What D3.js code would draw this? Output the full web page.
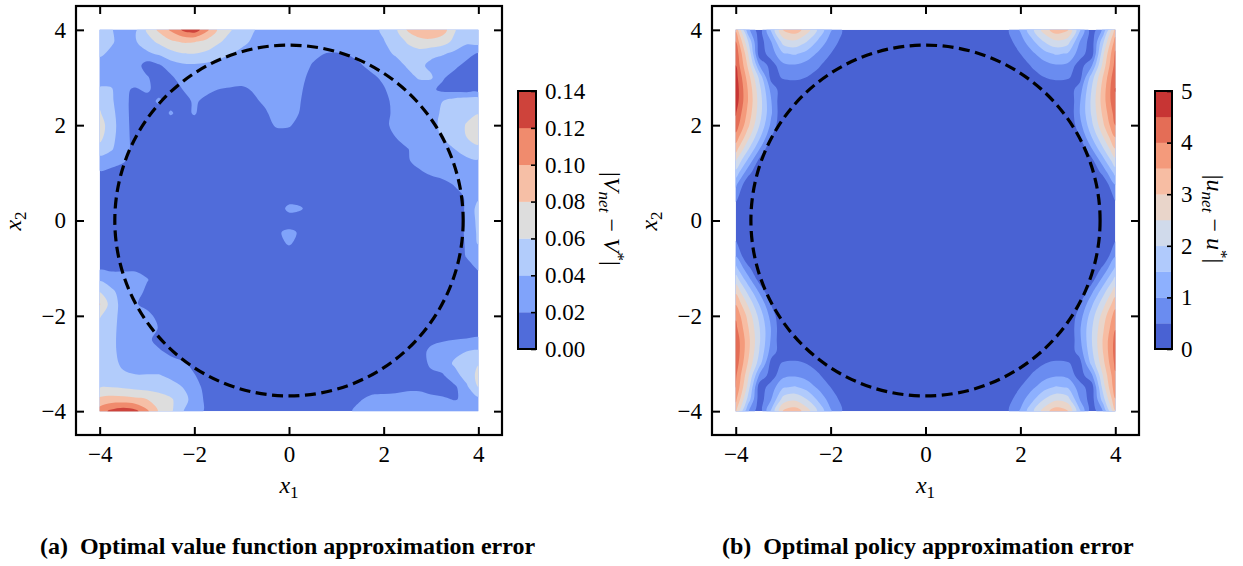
<!DOCTYPE html>
<html>
<head>
<meta charset="utf-8">
<script src="https://cdn.jsdelivr.net/npm/d3@7"></script>
<style>
  body { margin: 0; background: #fff; }
  svg { display: block; }
</style>
</head>
<body>
<svg id="fig" width="1243" height="566"></svg>
<script>
// ---------- data ----------
const gridMin = -4, gridMax = 4;
const axisTicks = [-4, -2, 0, 2, 4];
const axisTickLabels = ["\u22124", "\u22122", "0", "2", "4"];
const circleRadius = 3.68;

// |V_net - V*| in units of 0.01
const valueLevels = [0, 2, 4, 6, 8, 10, 12, 14];
const valueTickLabels = ["0.00", "0.02", "0.04", "0.06", "0.08", "0.10", "0.12", "0.14"];
const policyLevels = [0, 0.5, 1, 1.5, 2, 2.5, 3, 3.5, 4, 4.5, 5];
const policyTicks = [0, 1, 2, 3, 4, 5];
const policyTickLabels = ["0", "1", "2", "3", "4", "5"];

// rows go from x2 = 4 (top) to x2 = -4 (bottom), columns from x1 = -4 to 4, step 0.25
const valueError = [
  [5.5,4.1,3.2,3.6,6.3,8.4,10.3,12.2,13.2,10.6,7.8,6.2,5.0,4.1,3.3, 3,3,3,3,3,3,3,3, 3.5,4.3,5.6,8.2,9.5,9.8,9.0,6.2,4.2,4.5],
  [5.2,4.3,3.0,3.8,5.2,6.4,7.6,8.2,8.1,7.4,6.3,5.3,4.5,3.7,3.2, 3,3,3,3,3,3,3,3, 3.3,3.9,4.8,6.2,7.2,7.4,6.8,5.5,4.4,4.8],
  [4.4,3.5,3.0,3.2,3.6,4.3,5.3,5.9,6.0,5.6,4.8,4.1,3.5,3.1, 3,3,3,3, 2.6,2.0,1.9,2.1,2.6,3.0,3.5,4.2,5.0,5.2,4.5,4.2,3.5,2.6,1.8],
  [3,3,3,3, 1.1,1.7,3.0,3.6,3.7,3.5,3.2, 3,3,3,3,3,3,3, 1.8,1.2,1.0,1.2,1.8,2.6,3.0,3.3,4.2,4.5,3.5,2.8,2.4,1.5,1.2],
  [3,3,3,3, 2.2,1.0,1.6, 3,3,3,3,3,3,3,3,3,3, 2.5,1.3,1,1,1,1.2,1.6,2.4,3.0,3.4,4.2,4.3,2.2,1.3,1.0,1.0],
  [4.3,4.2,2.3,1.8,2.3,1.3,1.0,2.0,3.0,2.5,2.0,1.8,1.6,2.2,3.0,3.0,3.0,2.2, 1,1,1,1,1,1, 1.8,3.0,3.0,3.0,2.4,1.5,1.2,1.0,1.0],
  [5.5,4.3,2.6,1.3,1.2,2.3,1.3,1.2,2.3,1.5,1.0,1.0,1.0,1.6,2.4,3.0,3.0,2.0, 1,1,1,1,1,1, 1.4,2.6,3.0,3.1,3.4,4.0,5.0,5.4,5.5],
  [6.2,4.6,2.7,1.2,1.0,1.0,2.2,1.3,2.2,1.0,1.0,1.0,1.0,1.0,1.7,3.0,3.0,1.8, 1,1,1,1,1,1, 1.2,2.6,3.0,3.0,3.3,4.3,5.2,5.6,5.9],
  [7.0,4.8,2.8,1.2, 1,1,1,1,1,1,1,1,1,1, 1.3,2.3,2.2,1.3, 1,1,1,1,1,1, 1.3,2.8,3.0,3.1,3.5,4.4,5.3,6.1,7.0],
  [6.6,4.6,2.8,1.3, 1,1,1,1,1,1,1,1,1,1, 1,1,1,1,1,1,1,1,1,1, 1.2,2.0,3.0,3.0,3.4,4.1,5.0,6.0,6.8],
  [5.3,4.2,2.7,1.4, 1,1,1,1,1,1,1,1,1,1, 1,1,1,1,1,1,1,1,1,1, 1,1, 1.9,2.8,3.0,3.4,4.0,4.8,5.6],
  [3.0,2.8,2.2, 1,1,1,1,1,1,1,1,1,1, 1,1,1,1,1,1,1,1,1,1, 1,1,1, 1.8,2.6,3.0,3.0,3.2,3.6,3.8],
  [1.8,1.4, 1,1,1,1,1,1,1,1,1,1, 1,1,1,1,1,1,1,1,1,1, 1,1,1,1,1, 1.7,2.3,2.7,3.0,3.0,3.0],
  [1,1,1,1,1,1,1,1,1,1, 1,1,1,1,1,1,1,1,1,1, 1,1,1,1,1,1,1,1,1, 1.4,2.1,2.8,3.0],
  [1,1,1,1,1,1,1,1,1,1, 1,1,1,1,1,1,1,1,1,1, 1,1,1,1,1,1,1,1,1,1, 1.4,2.2,3.6],
  [1,1,1,1,1,1,1,1,1,1, 1,1,1,1,1,1, 2.5,2.2, 1,1,1,1,1,1,1,1,1,1,1,1, 1.2,2.2,4.8],
  [1,1,1,1,1,1,1,1,1,1, 1,1,1,1,1,1,1,1,1,1, 1,1,1,1,1,1,1,1,1,1,1, 2.3,4.6],
  [1,1,1,1,1,1,1,1,1,1, 1,1,1,1,1, 1.8,2.35,1.8, 1,1,1,1,1,1,1,1,1,1,1,1,1, 2.3,4.4],
  [1,1,1,1,1,1,1,1,1,1, 1,1,1,1,1, 1.6,2.1,1.6, 1,1,1,1,1,1,1,1,1,1,1,1,1, 2.2,4.1],
  [1,1,1,1,1,1,1,1,1,1, 1,1,1,1,1,1,1,1,1,1, 1,1,1,1,1,1,1,1,1,1,1, 2.1,2.9],
  [1.7,1.6,1.6,1.6,1.5, 1,1,1,1,1,1,1,1,1,1, 1,1,1,1,1,1,1,1,1,1, 1,1,1,1,1,1, 1.3,2.2],
  [3.8,3.0,3.0,3.0,2.1,1.3, 1,1,1,1,1,1,1,1,1,1, 1,1,1,1,1,1,1,1,1,1, 1,1,1,1,1,1, 1.2],
  [6.0,4.5,3.0,2.8,1.6, 1,1,1,1,1,1,1,1,1,1, 1,1,1,1,1,1,1,1,1,1, 1,1,1,1,1,1,1,1],
  [8.2,5.0,3.2,2.2,1.4, 1,1,1,1,1,1,1,1,1,1, 1,1,1,1,1,1,1,1,1,1, 1,1,1,1,1,1,1,1],
  [6.2,4.8,3.2,3.0,2.6,1.4, 1,1,1,1,1,1,1,1,1,1, 1,1,1,1,1,1,1,1,1,1, 1,1,1,1,1,1,1],
  [5.2,4.6,3.2,3.0,3.0,1.9, 1,1,1,1,1,1,1,1,1,1, 1,1,1,1,1,1,1,1,1,1, 1,1,1,1,1,1,1],
  [5.2,4.5,3.2,3.0,2.5,1.3, 1,1,1,1,1,1,1,1,1,1, 1,1,1,1,1,1,1,1,1,1, 1,1, 1.4,1.8,2.0,2.1,2.3],
  [5.0,4.5,3.3,3.0,3.0,2.3,1.5, 1,1,1,1,1,1,1,1,1,1, 1,1,1,1,1,1,1,1,1,1, 1, 2.6,3.0,3.5,4.0,4.3],
  [5.0,4.8,3.5,3.0,3.0,3.0,2.8,2.3,1.5, 1,1,1,1,1,1,1,1,1,1, 1,1,1,1,1,1,1,1,1, 2.4,3.0,4.3,5.0,5.9],
  [5.2,5.0,4.4,4.1,4.1,4.1,3.7,3.0,2.1,1.2, 1,1,1,1,1,1,1,1,1,1, 1,1,1,1,1,1,1,1, 1.5,1.8,3.3,4.8,6.5],
  [5.9,6.0,5.8,5.5,5.3,5.0,4.6,4.0,2.8,1.4, 1,1,1,1,1,1,1,1,1,1,1, 1.2,1.4,1.5,1.5,1.6,1.7,1.7,1.4,1.3,1.6,3.6,6.0],
  [8.5,8.8,8.7,8.4,8.0,7.2,6.3,4.8,3.2,1.6,1.1, 1,1,1,1,1,1,1,1,1,1, 1.3,1.9,2.3,2.4,2.4,2.6,2.6,2.4,2.2,1.9,2.3,3.5],
  [11.0,12.5,13.3,12.6,10.4,7.8,6.4,4.1,3.0,1.7, 1,1,1,1,1,1,1,1,1,1,1, 1.8,2.4,2.6,2.7,2.8,3.0,3.0,3.0,3.0,3.0,3.2,3.8]
];

const policyError = [
  [3.4,1.2,0.15,1.6,3.05,3.3,2.75,1.88,1.06,0.48,0.18,0.06, 0,0,0,0,0,0,0,0,0, 0.06,0.18,0.48,1.06,1.88,2.75,3.3,3.05,1.6,0.15,1.12,3.16],
  [4.0,2.1,0.2,1.0,2.21,2.39,2.0,1.37,0.77,0.35,0.13,0.04, 0,0,0,0,0,0,0,0,0, 0.04,0.13,0.35,0.77,1.37,2.0,2.39,2.21,1.0,0.2,1.95,3.72],
  [4.4,2.63,0.2,0.75,1.45,1.56,1.31,0.89,0.5,0.23,0.09,0.03, 0,0,0,0,0,0,0,0,0, 0.03,0.09,0.23,0.5,0.89,1.31,1.56,1.45,0.75,0.2,2.45,4.09],
  [4.5,2.96,1.0,0.25,0.87,0.94,0.79,0.54,0.3,0.14,0.05, 0,0,0,0,0,0,0,0,0,0,0, 0.05,0.14,0.3,0.54,0.79,0.94,0.87,0.25,0.93,2.75,4.19],
  [4.75,3.31,1.88,0.3,0.55,0.59,0.49,0.34,0.19,0.09,0.03, 0,0,0,0,0,0,0,0,0,0,0, 0.03,0.09,0.19,0.34,0.49,0.59,0.55,0.3,1.75,3.08,4.42],
  [4.85,3.51,2.16,0.82,0.18,0.2,0.16,0.11,0.06,0.03, 0,0,0,0,0,0,0,0,0,0,0,0,0, 0.03,0.06,0.11,0.16,0.2,0.18,0.76,2.01,3.26,4.51],
  [4.8,3.54,2.27,1.01, 0,0,0,0,0, 0,0,0,0,0, 0,0,0,0,0, 0,0,0,0,0, 0,0,0,0,0, 0.94,2.11,3.29,4.46],
  [4.55,3.39,2.22,1.06, 0,0,0,0,0, 0,0,0,0,0, 0,0,0,0,0, 0,0,0,0,0, 0,0,0,0,0, 0.99,2.06,3.15,4.23],
  [4.3,3.16,2.01,0.86, 0,0,0,0,0, 0,0,0,0,0, 0,0,0,0,0, 0,0,0,0,0, 0,0,0,0,0, 0.8,1.87,2.94,4.0],
  [3.8,2.7,1.6,0.5, 0,0,0,0,0, 0,0,0,0,0, 0,0,0,0,0, 0,0,0,0,0, 0,0,0,0,0, 0.47,1.49,2.51,3.53],
  [3.2,2.11,1.02, 0,0,0,0,0, 0,0,0,0,0, 0,0,0,0,0, 0,0,0,0,0, 0,0,0,0,0, 0,0, 0.95,1.96,2.98],
  [2.5,1.41,0.33, 0,0,0,0,0, 0,0,0,0,0, 0,0,0,0,0, 0,0,0,0,0, 0,0,0,0,0, 0,0, 0.31,1.31,2.33],
  [1.8,0.72, 0,0,0,0,0, 0,0,0,0,0, 0,0,0,0,0, 0,0,0,0,0, 0,0,0,0,0, 0,0,0,0, 0.67,1.67],
  [1.1,0.1, 0,0,0,0,0, 0,0,0,0,0, 0,0,0,0,0, 0,0,0,0,0, 0,0,0,0,0, 0,0,0,0, 0.1,1.02],
  [0.65, 0,0,0,0,0, 0,0,0,0,0, 0,0,0,0,0, 0,0,0,0,0, 0,0,0,0,0, 0,0,0,0,0,0, 0.6],
  [0.3, 0,0,0,0,0, 0,0,0,0,0, 0,0,0,0,0, 0,0,0,0,0, 0,0,0,0,0, 0,0,0,0,0,0, 0.28],
  [0.15, 0,0,0,0,0, 0,0,0,0,0, 0,0,0,0,0, 0,0,0,0,0, 0,0,0,0,0, 0,0,0,0,0,0, 0.14],
  [0.27, 0,0,0,0,0, 0,0,0,0,0, 0,0,0,0,0, 0,0,0,0,0, 0,0,0,0,0, 0,0,0,0,0,0, 0.26],
  [0.59, 0,0,0,0,0, 0,0,0,0,0, 0,0,0,0,0, 0,0,0,0,0, 0,0,0,0,0, 0,0,0,0,0,0, 0.57],
  [1.0,0.09, 0,0,0,0,0, 0,0,0,0,0, 0,0,0,0,0, 0,0,0,0,0, 0,0,0,0,0, 0,0,0,0, 0.09,0.96],
  [1.64,0.66, 0,0,0,0,0, 0,0,0,0,0, 0,0,0,0,0, 0,0,0,0,0, 0,0,0,0,0, 0,0,0,0, 0.63,1.57],
  [2.28,1.28,0.3, 0,0,0,0,0, 0,0,0,0,0, 0,0,0,0,0, 0,0,0,0,0, 0,0,0,0,0, 0,0, 0.29,1.23,2.18],
  [2.91,1.92,0.93, 0,0,0,0,0, 0,0,0,0,0, 0,0,0,0,0, 0,0,0,0,0, 0,0,0,0,0, 0,0, 0.89,1.84,2.78],
  [3.46,2.46,1.46,0.46, 0,0,0,0,0, 0,0,0,0,0, 0,0,0,0,0, 0,0,0,0,0, 0,0,0,0,0, 0.44,1.39,2.35,3.31],
  [3.91,2.88,1.83,0.78, 0,0,0,0,0, 0,0,0,0,0, 0,0,0,0,0, 0,0,0,0,0, 0,0,0,0,0, 0.75,1.75,2.75,3.74],
  [4.14,3.08,2.02,0.96, 0,0,0,0,0, 0,0,0,0,0, 0,0,0,0,0, 0,0,0,0,0, 0,0,0,0,0, 0.92,1.93,2.95,3.96],
  [4.37,3.22,2.07,0.92, 0,0,0,0,0, 0,0,0,0,0, 0,0,0,0,0, 0,0,0,0,0, 0,0,0,0,0, 0.88,1.97,3.08,4.18],
  [4.41,3.19,1.97,0.75,0.18,0.2,0.16,0.11,0.06,0.03, 0,0,0,0,0,0,0,0,0,0,0,0,0, 0.03,0.06,0.11,0.16,0.2,0.18,0.71,1.88,3.05,4.22],
  [4.32,3.01,1.71,0.3,0.55,0.59,0.49,0.34,0.19,0.09,0.03, 0,0,0,0,0,0,0,0,0,0,0, 0.03,0.09,0.19,0.34,0.49,0.59,0.55,0.3,1.64,2.88,4.13],
  [4.1,2.69,0.91,0.25,0.87,0.94,0.79,0.54,0.3,0.14,0.05, 0,0,0,0,0,0,0,0,0,0,0, 0.05,0.14,0.3,0.54,0.79,0.94,0.87,0.25,0.87,2.58,3.92],
  [4.0,2.39,0.2,0.75,1.45,1.56,1.31,0.89,0.5,0.23,0.09,0.03, 0,0,0,0,0,0,0,0,0, 0.03,0.09,0.23,0.5,0.89,1.31,1.56,1.45,0.75,0.2,2.29,3.83],
  [3.64,1.91,0.2,1.0,2.21,2.39,2.0,1.37,0.77,0.35,0.13,0.04, 0,0,0,0,0,0,0,0,0, 0.04,0.13,0.35,0.77,1.37,2.0,2.39,2.21,1.0,0.2,1.83,3.48],
  [3.09,1.09,0.15,1.6,3.05,3.3,2.75,1.88,1.06,0.48,0.18,0.06, 0,0,0,0,0,0,0,0,0, 0.06,0.18,0.48,1.06,1.88,2.75,3.3,3.05,1.6,0.15,1.04,2.96]
];

// matplotlib "coolwarm" (Moreland) sampled at 33 points
const coolwarmStops = [
  [59,76,192],[68,90,204],[77,104,215],[87,117,225],[98,130,234],[108,142,241],[119,154,247],[130,165,251],
  [141,176,254],[152,185,255],[163,194,255],[174,201,253],[184,208,249],[194,213,244],[204,217,238],[213,219,230],
  [221,221,221],[229,216,209],[236,211,197],[241,204,185],[245,196,173],[247,187,160],[247,177,148],[247,166,135],
  [244,154,123],[241,141,111],[236,127,99],[229,112,88],[222,96,77],[213,80,66],[203,62,56],[192,40,47],[180,4,38]
];

// ---------- drawing ----------
const svg = d3.select("#fig");
const plotTop = 6, plotBottom = 435;
const fontSize = 23;
const mathSize = 24, scriptSize = 17;
const serif = "'Liberation Serif', 'DejaVu Serif', serif";

const cw = d3.scaleLinear()
  .domain(coolwarmStops.map((d, i) => i / (coolwarmStops.length - 1)))
  .range(coolwarmStops.map(d => d3.rgb(d[0], d[1], d[2]).toString()))
  .interpolate(d3.interpolateRgb);

function styleAxis(g) {
  g.attr("font-family", null).attr("font-size", null);
  g.select(".domain").remove();
  g.selectAll(".tick line").attr("stroke", "#000").attr("stroke-width", 2);
  g.selectAll(".tick text").attr("font-size", fontSize).attr("fill", "#000");
}

function drawPanel(p) {
  const x = d3.scaleLinear().domain([-4.5, 4.5]).range([p.left, p.right]);
  const y = d3.scaleLinear().domain([-4.5, 4.5]).range([plotBottom, plotTop]);
  const rows = p.grid.length, cols = p.grid[0].length;
  const sx = (gridMax - gridMin) / (cols - 1), sy = (gridMax - gridMin) / (rows - 1);
  const nb = p.levels.length - 1;
  const band = k => cw((k + 0.5) / nb);

  svg.append("clipPath").attr("id", "clip-" + p.id)
    .append("rect")
    .attr("x", x(gridMin)).attr("y", y(gridMax))
    .attr("width", x(gridMax) - x(gridMin))
    .attr("height", y(gridMin) - y(gridMax));

  const field = svg.append("g").attr("clip-path", "url(#clip-" + p.id + ")");
  field.append("rect")
    .attr("x", x(gridMin)).attr("y", y(gridMax))
    .attr("width", x(gridMax) - x(gridMin))
    .attr("height", y(gridMin) - y(gridMax))
    .attr("fill", band(0));

  const contours = d3.contours()
    .size([cols, rows])
    .thresholds(p.levels.slice(1, nb))(p.grid.flat());

  // grid coords -> pixels, dropping points that sit almost on top of each other
  const toPx = r => {
    const out = [];
    r.slice(0, -1).forEach(d => {
      const q = [x(gridMin + (d[0] - 0.5) * sx), y(gridMax - (d[1] - 0.5) * sy)];
      const last = out[out.length - 1];
      if (!last || Math.hypot(q[0] - last[0], q[1] - last[1]) > 1.5) out.push(q);
    });
    return out;
  };
  const ring = d3.line().curve(d3.curveCatmullRomClosed);

  field.selectAll("path.band")
    .data(contours)
    .join("path")
    .attr("class", "band")
    .attr("fill", (d, i) => band(i + 1))
    .attr("fill-rule", "evenodd")
    .attr("d", d => d.coordinates.map(poly => poly.map(r => {
      const pts = toPx(r);
      return pts.length > 2 ? ring(pts) : "";
    }).join("")).join(""));

  // dashed circle
  svg.append("ellipse")
    .attr("cx", x(0)).attr("cy", y(0))
    .attr("rx", x(circleRadius) - x(0)).attr("ry", y(0) - y(circleRadius))
    .attr("fill", "none")
    .attr("stroke", "#000")
    .attr("stroke-width", 3.2)
    .attr("stroke-dasharray", "11,5.5");

  // axes, ticks inward on all sides
  const fmt = (d, i) => axisTickLabels[i];
  svg.append("g").attr("transform", `translate(0,${plotBottom})`)
    .call(d3.axisBottom(x).tickValues(axisTicks).tickFormat(fmt).tickSizeInner(-8).tickSizeOuter(0).tickPadding(11))
    .call(styleAxis);
  svg.append("g").attr("transform", `translate(${p.left},0)`)
    .call(d3.axisLeft(y).tickValues(axisTicks).tickFormat(fmt).tickSizeInner(-8).tickSizeOuter(0).tickPadding(10))
    .call(styleAxis);
  svg.append("g").attr("transform", `translate(0,${plotTop})`)
    .call(d3.axisTop(x).tickValues(axisTicks).tickFormat("").tickSizeInner(-8).tickSizeOuter(0))
    .call(styleAxis);
  svg.append("g").attr("transform", `translate(${p.right},0)`)
    .call(d3.axisRight(y).tickValues(axisTicks).tickFormat("").tickSizeInner(-8).tickSizeOuter(0))
    .call(styleAxis);

  svg.append("rect")
    .attr("x", p.left).attr("y", plotTop)
    .attr("width", p.right - p.left).attr("height", plotBottom - plotTop)
    .attr("fill", "none").attr("stroke", "#000").attr("stroke-width", 2.2);

  // axis labels
  const xl = svg.append("text").attr("x", x(0)).attr("y", 493)
    .attr("text-anchor", "middle").attr("font-size", mathSize);
  xl.append("tspan").attr("font-style", "italic").text("x");
  xl.append("tspan").attr("font-size", scriptSize).attr("dy", 5).text("1");

  const yl = svg.append("text")
    .attr("transform", `translate(${p.left - 55},221) rotate(-90)`)
    .attr("text-anchor", "middle").attr("font-size", mathSize);
  yl.append("tspan").attr("font-style", "italic").text("x");
  yl.append("tspan").attr("font-size", scriptSize).attr("dy", 5).text("2");

  // colorbar
  const cb = d3.scaleLinear().domain([p.levels[0], p.levels[nb]]).range([349, 91]);
  svg.append("g").selectAll("rect")
    .data(d3.range(nb))
    .join("rect")
    .attr("x", p.cbLeft).attr("width", p.cbRight - p.cbLeft)
    .attr("y", k => cb(p.levels[k + 1]))
    .attr("height", k => cb(p.levels[k]) - cb(p.levels[k + 1]) + 0.3)
    .attr("fill", k => band(k));
  svg.append("rect")
    .attr("x", p.cbLeft).attr("y", 91)
    .attr("width", p.cbRight - p.cbLeft).attr("height", 258)
    .attr("fill", "none").attr("stroke", "#000").attr("stroke-width", 2);
  svg.append("g").attr("transform", `translate(${p.cbRight},0)`)
    .call(d3.axisRight(cb).tickValues(p.cbTicks).tickFormat((d, i) => p.cbTickLabels[i])
      .tickSizeInner(-5).tickSizeOuter(0).tickPadding(9))
    .call(styleAxis)
    .call(g => g.selectAll(".tick line").attr("stroke-width", 1.6));

  const cl = svg.append("text")
    .attr("transform", `translate(${p.cbLabelX},219) rotate(90)`)
    .attr("text-anchor", "middle").attr("font-size", mathSize);
  cl.append("tspan").text("|");
  cl.append("tspan").attr("font-style", "italic").text(p.sym);
  cl.append("tspan").attr("font-style", "italic").attr("font-size", scriptSize).attr("dy", 5).text("net");
  cl.append("tspan").attr("dy", -5).text(" \u2212 ");
  cl.append("tspan").attr("font-style", "italic").text(p.sym);
  cl.append("tspan").attr("font-size", scriptSize).attr("dy", -9).text("*");
  cl.append("tspan").attr("dy", 9).text("|");

  // caption
  const cap = svg.append("text").attr("x", p.capX).attr("y", 554)
    .attr("font-size", 24).attr("font-weight", "bold");
  cap.append("tspan").text(p.capTag);
  cap.append("tspan").attr("dx", 12).text(p.caption);
}

drawPanel({
  id: "value", left: 76, right: 502, grid: valueError, levels: valueLevels,
  cbLeft: 518, cbRight: 536, cbTicks: valueLevels, cbTickLabels: valueTickLabels,
  cbLabelX: 604, sym: "V",
  capX: 40, capTag: "(a)", caption: "Optimal value function approximation error"
});
drawPanel({
  id: "policy", left: 712, right: 1139, grid: policyError, levels: policyLevels,
  cbLeft: 1155, cbRight: 1172, cbTicks: policyTicks, cbTickLabels: policyTickLabels,
  cbLabelX: 1207, sym: "u",
  capX: 722, capTag: "(b)", caption: "Optimal policy approximation error"
});

// every text gets the serif family directly
svg.selectAll("text").attr("font-family", serif);
</script>
</body>
</html>
